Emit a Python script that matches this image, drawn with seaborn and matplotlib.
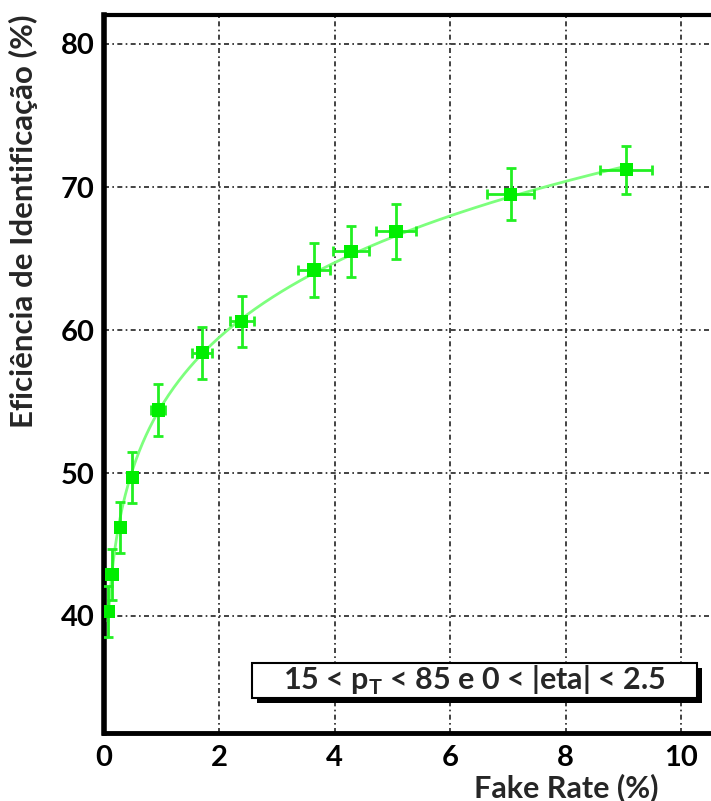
import numpy as np
import pandas as pd
import matplotlib
matplotlib.use("Agg")
import matplotlib.pyplot as plt
from matplotlib.patches import Rectangle
from matplotlib.ticker import MultipleLocator
import seaborn as sns

# Identification efficiency versus fake rate (both in %)
fake_rate = [0.07, 0.14, 0.28, 0.49, 0.94, 1.70, 2.39, 3.64, 4.28, 5.06, 7.05, 9.05]
efficiency = [40.3, 42.9, 46.2, 49.7, 54.4, 58.4, 60.6, 64.2, 65.5, 66.9, 69.5, 71.2]
fake_rate_err = [0.02, 0.03, 0.05, 0.07, 0.12, 0.18, 0.21, 0.28, 0.31, 0.35, 0.41, 0.45]
efficiency_err = [1.8, 1.8, 1.8, 1.8, 1.8, 1.8, 1.8, 1.9, 1.8, 1.9, 1.8, 1.7]

x_ticks = [0, 2, 4, 6, 8, 10]
y_ticks = [40, 50, 60, 70, 80]

xlabel = "Fake Rate (%)"
ylabel = "Eficiência de Identificação (%)"
cut_label = r"15 < p$_\mathregular{T}$ < 85 e 0 < |eta| < 2.5"

sns.set_style("white")
plt.rcParams["font.family"] = ["Lato", "DejaVu Sans"]
plt.rcParams["font.weight"] = "bold"

df = pd.DataFrame({"fake": fake_rate, "eff": efficiency})

# power-law fit  eff = a * fake^b  (linear in log-log)
b, log_a = np.polyfit(np.log(df["fake"]), np.log(df["eff"]), 1)
fit_x = np.linspace(min(fake_rate), max(fake_rate), 300)
fit_df = pd.DataFrame({"fake": fit_x, "eff": np.exp(log_a) * fit_x ** b})

fig = plt.figure(figsize=(7.11, 8.01), dpi=100)
ax = fig.add_axes([104 / 711, 1 - 733 / 801, 1 - 104 / 711, (733 - 15) / 801])

green = "#22f022"
sns.lineplot(data=fit_df, x="fake", y="eff", ax=ax, color="#7dff7d", lw=2.0, zorder=3)
ax.errorbar(fake_rate, efficiency, xerr=fake_rate_err, yerr=efficiency_err,
            fmt="none", ecolor=green, elinewidth=2, capsize=3.5, capthick=2, zorder=4)
sns.scatterplot(data=df, x="fake", y="eff", ax=ax, marker="s", s=90,
                color="#00ee00", edgecolor="none", linewidth=0, zorder=5)

ax.set_xlim(0, (711 - 104) / 57.7)
ax.set_ylim(40 - (733 - 616) / 14.3, 80 + (44 - 15) / 14.3)
ax.set_xticks(x_ticks)
ax.set_yticks(y_ticks)
ax.xaxis.set_minor_locator(MultipleLocator(0.5))
ax.yaxis.set_minor_locator(MultipleLocator(2))
ax.tick_params(axis="both", which="major", direction="in", length=14, width=1.4,
               labelsize=21, colors="black")
ax.tick_params(axis="x", which="major", pad=9)
ax.tick_params(axis="y", which="major", pad=7)
ax.tick_params(axis="both", which="minor", direction="in", length=7, width=1.2)
for lab in ax.get_xticklabels() + ax.get_yticklabels():
    lab.set_fontweight("bold")

ax.grid(True, which="major", color="#222222", linestyle=(0, (3, 2, 1, 2)), lw=1.2)
ax.set_axisbelow(True)

for side in ["left", "bottom", "top"]:
    ax.spines[side].set_visible(True)
    ax.spines[side].set_color("black")
ax.spines["left"].set_linewidth(4)
ax.spines["bottom"].set_linewidth(3.5)
ax.spines["top"].set_linewidth(3)
ax.spines["right"].set_visible(False)

ax.set_xlabel("")
ax.set_ylabel("")
fig.text(658 / 711, 1 - 788 / 801, xlabel, ha="right", va="center",
         fontsize=22, fontweight="bold")
fig.text(23 / 711, 1 - 14 / 801, ylabel, ha="center", va="top", rotation=90,
         fontsize=22.5, fontweight="bold")

# cut description box with drop shadow
bx0, bx1, by0, by1 = 252, 697, 663, 698
fig.patches.append(Rectangle(((bx0 + 5) / 711, 1 - (by1 + 5) / 801),
                             (bx1 - bx0) / 711, (by1 - by0) / 801,
                             transform=fig.transFigure, facecolor="black",
                             edgecolor="none", zorder=10))
fig.patches.append(Rectangle((bx0 / 711, 1 - by1 / 801),
                             (bx1 - bx0) / 711, (by1 - by0) / 801,
                             transform=fig.transFigure, facecolor="white",
                             edgecolor="black", lw=1.5, zorder=11))
fig.text((bx0 + bx1) / 2 / 711, 1 - (by0 + by1) / 2 / 801, cut_label,
         ha="center", va="center", fontsize=22, fontweight="bold", zorder=12)

fig.savefig("out.png", dpi=100)
